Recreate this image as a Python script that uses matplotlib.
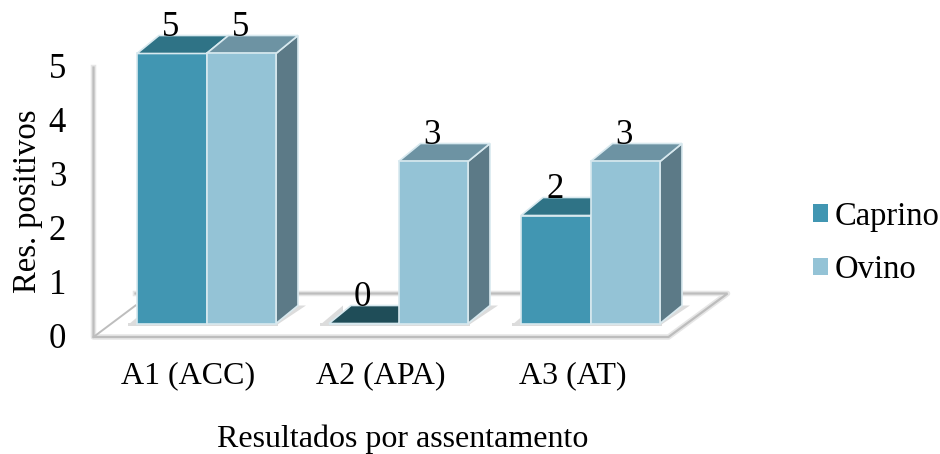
#!/usr/bin/env python3
"""Positive results per settlement, drawn as a pseudo-3D clustered column chart."""

import matplotlib
matplotlib.use('Agg')
import matplotlib.pyplot as plt
from matplotlib.patches import Patch

plt.rcParams['font.family'] = ['Liberation Serif', 'DejaVu Serif']

# ── Data ──────────────────────────────────────────────────────────────────────
categories = ['A1 (ACC)', 'A2 (APA)', 'A3 (AT)']
caprino = [5, 0, 2]
ovino = [5, 3, 3]
y_ticks = [0, 1, 2, 3, 4, 5]

# ── Colours: front / top / side of each series ────────────────────────────────
CAPRINO = {'front': '#4196b2', 'top': '#2f7386', 'zero': '#1f4d58'}
OVINO = {'front': '#94c3d6', 'top': '#6d93a3', 'side': '#5c7a87'}
EDGE = '#d8e9ef'
FLOOR = '#bdbdbd'
FLOOR_SOFT = '#e6e6e6'
SHADOW = '#dcdcdc'

W, H = 940, 454
PX_X, PX_Y = 192.0, 54.0      # pixels per category / per unit of value
X0, Y0 = 206.5, 323.5         # pixel of category 0, value 0

BAR_W = 69.5 / PX_X
DX, DY = 22 / PX_X, 18 / PX_Y  # depth offset of the extruded faces
FLOOR_DY = 13.5 / PX_Y         # front edge of the floor sits below the bars


def top_face(ax, left, value, colour):
    ax.fill([left, left + BAR_W, left + BAR_W + DX, left + DX],
            [value, value, value + DY, value + DY],
            facecolor=colour, edgecolor=EDGE, linewidth=1.2, zorder=3)


def side_face(ax, right, value, colour):
    ax.fill([right, right + DX, right + DX, right],
            [0, DY, value + DY, value],
            facecolor=colour, edgecolor=EDGE, linewidth=1.2, zorder=3)


def base_shadow(ax, left, right):
    # soft footprint on the floor, left of and behind each cluster
    ax.fill([left - 9 / PX_X, left + 14 / PX_X, left + 14 / PX_X, left],
            [-1.5 / PX_Y, DY, -1.5 / PX_Y, -1.5 / PX_Y],
            facecolor=SHADOW, edgecolor='none', zorder=1.5)
    ax.fill([left - 9 / PX_X, right + 2 / PX_X, right + 2 / PX_X, left - 9 / PX_X],
            [-2.5 / PX_Y, -2.5 / PX_Y, 1 / PX_Y, 1 / PX_Y],
            facecolor=SHADOW, edgecolor='none', zorder=1.5)
    ax.fill([right, right + 30 / PX_X, right + 22 / PX_X, right],
            [-2 / PX_Y, DY, DY, DY],
            facecolor=SHADOW, edgecolor='none', zorder=1.5)


fig = plt.figure(figsize=(W / 100, H / 100), dpi=100)
ax = fig.add_axes([0, 0, 1, 1])
ax.set_xlim(-X0 / PX_X, (W - X0) / PX_X)
ax.set_ylim((Y0 - H) / PX_Y, Y0 / PX_Y)
ax.axis('off')

# ── Floor and wall ────────────────────────────────────────────────────────────
x_wall = -113 / PX_X
x_front = 462 / PX_X
x_back = 521 / PX_X
outline_x = [x_wall, x_wall, x_front, x_back, x_wall + 42 / PX_X]
outline_y = [5 - FLOOR_DY - 0.01, -FLOOR_DY, -FLOOR_DY, DY + 12 / PX_Y, DY + 12 / PX_Y]
ax.plot(outline_x, outline_y, color=FLOOR_SOFT, linewidth=4, zorder=0.9)
ax.plot(outline_x, outline_y, color=FLOOR, linewidth=1.6,
        solid_joinstyle='miter', zorder=1)
ax.plot([x_wall, x_wall + 42 / PX_X], [-FLOOR_DY, 18 / PX_Y],
        color=FLOOR, linewidth=1.4, zorder=1)

# ── Columns ───────────────────────────────────────────────────────────────────
for i, (cap, ovi) in enumerate(zip(caprino, ovino)):
    base_shadow(ax, i - BAR_W, i + BAR_W)
    ax.bar(i - BAR_W / 2, cap, BAR_W, color=CAPRINO['front'],
           edgecolor=EDGE, linewidth=1.2, zorder=3)
    top_face(ax, i - BAR_W, cap, CAPRINO['top'] if cap else CAPRINO['zero'])
    side_face(ax, i + BAR_W, ovi, OVINO['side'])
    top_face(ax, i, ovi, OVINO['top'])
    ax.bar(i + BAR_W / 2, ovi, BAR_W, color=OVINO['front'],
           edgecolor=EDGE, linewidth=1.2, zorder=4)

    # value labels sit on the back edge of each column
    ax.text(i - BAR_W / 2 - 1 / PX_X, cap + DY - 1 / PX_Y, str(cap), ha='center',
            va='baseline', fontsize=25, color='black', zorder=5)
    ax.text(i + BAR_W / 2 - 1 / PX_X, ovi + DY - 1 / PX_Y, str(ovi), ha='center',
            va='baseline', fontsize=25, color='black', zorder=5)

    ax.text(i - 18 / PX_X, -52 / PX_Y, categories[i], ha='center', va='center',
            fontsize=23, color='black')

for t in y_ticks:
    ax.text(-149 / PX_X, t - FLOOR_DY - 3 / PX_Y, str(t), ha='center', va='center',
            fontsize=25, color='black')

ax.text(-179 / PX_X, 122 / PX_Y, 'Res. positivos', rotation=90, ha='center', va='center',
        fontsize=23.5, color='black')
ax.text(196 / PX_X, -116 / PX_Y, 'Resultados por assentamento', ha='center', va='center',
        fontsize=23, color='black')

handles = [Patch(facecolor=CAPRINO['front'], edgecolor='none', label='Caprino'),
           Patch(facecolor=OVINO['front'], edgecolor='none', label='Ovino')]
ax.legend(handles=handles, loc='center left', bbox_to_anchor=(813 / W, 1 - 243 / H),
          frameon=False, fontsize=23.5, handlelength=0.45, handleheight=0.45,
          handletextpad=0.2, labelspacing=0.7, borderpad=0, borderaxespad=0)

fig.savefig('out.png', dpi=100)
plt.close(fig)
